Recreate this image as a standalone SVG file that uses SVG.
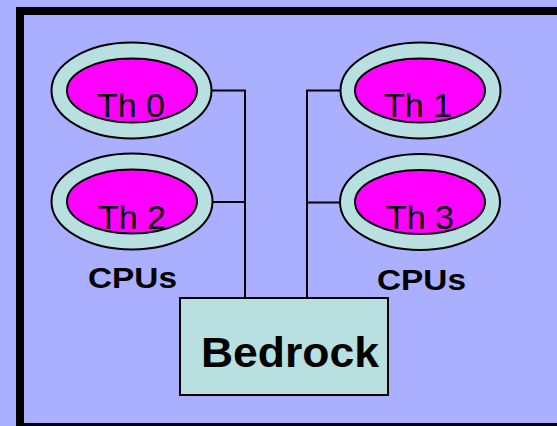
<svg xmlns="http://www.w3.org/2000/svg" width="557" height="426" viewBox="0 0 557 426">
<style>
.outer{fill:#B8E0E0;stroke:#000;stroke-width:2}
.inner{fill:#FF00FF;stroke:#000;stroke-width:2}
.th{font-family:"Liberation Sans",Arial,sans-serif;font-size:34px;fill:#000;text-anchor:middle}
.lbl{font-family:"Liberation Sans",Arial,sans-serif;font-size:29px;font-weight:bold;fill:#000}
.wire{stroke:#000;stroke-width:2;fill:none}
</style>
<rect x="0" y="0" width="557" height="426" fill="#AAB0FF"/>
<g id="frame">
<rect x="16" y="7" width="8" height="419" fill="#000"/>
<rect x="16" y="7" width="541" height="8" fill="#000"/>
<rect x="16" y="423" width="541" height="3" fill="#000"/>
</g>
<g id="connectors">
<polyline class="wire" points="212,90.5 245,90.5 245,298"/>
<line class="wire" x1="213" y1="202" x2="245" y2="202"/>
<polyline class="wire" points="340,90.5 307,90.5 307,298"/>
<line class="wire" x1="340" y1="202.5" x2="307" y2="202.5"/>
</g>
<g id="th0">
<ellipse class="outer" cx="131.5" cy="90.5" rx="80" ry="48"/>
<ellipse class="inner" cx="132" cy="90.5" rx="65" ry="32"/>
<text class="th" x="131" y="117">Th 0</text>
</g>
<g id="th2">
<ellipse class="outer" cx="132" cy="201.5" rx="80.5" ry="48"/>
<ellipse class="inner" cx="132" cy="201.5" rx="65" ry="32"/>
<text class="th" x="132" y="229">Th 2</text>
</g>
<g id="th1">
<ellipse class="outer" cx="420.5" cy="90.5" rx="80" ry="48"/>
<ellipse class="inner" cx="420" cy="90.5" rx="65" ry="32"/>
<text class="th" x="418" y="117">Th 1</text>
</g>
<g id="th3">
<ellipse class="outer" cx="420" cy="202" rx="80" ry="48"/>
<ellipse class="inner" cx="420" cy="202" rx="65" ry="32"/>
<text class="th" x="420" y="229">Th 3</text>
</g>
<g id="cpus-left">
<text class="lbl" x="88" y="288" textLength="89" lengthAdjust="spacingAndGlyphs">CPUs</text>
</g>
<g id="cpus-right">
<text class="lbl" x="377" y="290" textLength="89" lengthAdjust="spacingAndGlyphs">CPUs</text>
</g>
<g id="bedrock">
<rect x="180" y="298" width="208" height="97" fill="#B8E0E0" stroke="#000" stroke-width="2"/>
<text x="201" y="367" font-family="Liberation Sans,Arial,sans-serif" font-size="43" font-weight="bold" textLength="178" lengthAdjust="spacingAndGlyphs">Bedrock</text>
</g>
</svg>
